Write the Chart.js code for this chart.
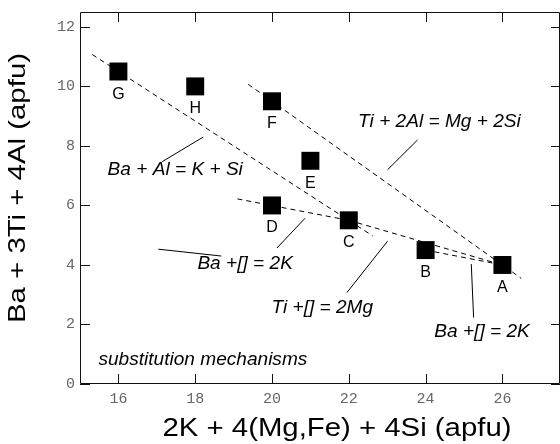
<!DOCTYPE html>
<html>
<head>
<meta charset="utf-8">
<script src="https://cdn.jsdelivr.net/npm/chart.js@4.4.0/dist/chart.umd.min.js"></script>
<style>
  html, body { margin: 0; padding: 0; background: #fff; }
  canvas { display: block; }
</style>
</head>
<body>
<canvas id="chart" width="560" height="444"></canvas>
<script>
// Samples A-H
const sampleNames = ['A', 'B', 'C', 'D', 'E', 'F', 'G', 'H'];
const sampleX = [26, 24, 22, 20, 21, 20, 16, 18];
const sampleY = [4, 4.5, 5.5, 6, 7.5, 9.5, 10.5, 10];

// Substitution vectors (dashed), end points
const baAlX = [15.32, 22.62];
const baAlY = [11.07, 4.98];
const tiAlX = [19.38, 26.49];
const tiAlY = [10.07, 3.55];
const baVacLeftX = [19.1, 22];
const baVacLeftY = [6.22, 5.5];
const tiVacX = [22, 26];
const tiVacY = [5.5, 4];
const baVacRightX = [24, 26];
const baVacRightY = [4.5, 4];

// Leader lines from the labels to the vectors
const leadTiAlX = [23.79, 23.01];
const leadTiAlY = [8.2, 7.2];
const leadBaAlX = [18.21, 17.14];
const leadBaAlY = [8.3, 7.47];
const leadBaVacAX = [17.04, 18.68];
const leadBaVacAY = [4.53, 4.3];
const leadBaVacBX = [20.86, 20.13];
const leadBaVacBY = [5.57, 4.57];
const leadTiVacX = [23.01, 21.95];
const leadTiVacY = [4.8, 3.07];
const leadBaVacCX = [25.19, 25.25];
const leadBaVacCY = [4.03, 2.23];

const xTicks = [16, 18, 20, 22, 24, 26];
const yTicks = [0, 2, 4, 6, 8, 10, 12];

// Annotation texts, anchored in data units (baseline)
const notes = [
    { text: 'Ti + 2Al = Mg + 2Si', x: 24.36, y: 8.63, align: 'center' },
    { text: 'Ba + Al = K + Si', x: 17.48, y: 7.03, align: 'center' },
    { text: 'Ba +[] = 2K', x: 19.30, y: 3.87, align: 'center' },
    { text: 'Ti +[] = 2Mg', x: 21.31, y: 2.37, align: 'center' },
    { text: 'Ba +[] = 2K', x: 25.47, y: 1.57, align: 'center' },
    { text: 'substitution mechanisms', x: 15.48, y: 0.63, align: 'left' }
];

const SANS = '"Liberation Sans", Arial, Helvetica, sans-serif';
const MONO = '"Liberation Mono", "Courier New", monospace';

function toPoints(xs, ys) {
    return xs.map((x, i) => ({ x: x, y: ys[i] }));
}

function vector(xs, ys) {
    return {
        data: toPoints(xs, ys),
        showLine: true,
        borderColor: '#000',
        borderWidth: 1,
        borderDash: [5, 4],
        pointRadius: 0,
        fill: false
    };
}

function leader(xs, ys) {
    return {
        data: toPoints(xs, ys),
        showLine: true,
        borderColor: '#000',
        borderWidth: 1,
        pointRadius: 0,
        fill: false
    };
}

function stretchedText(ctx, text, x, y, sx, align) {
    ctx.save();
    ctx.translate(x, y);
    ctx.scale(sx, 1);
    ctx.textAlign = align;
    ctx.fillText(text, 0, 0);
    ctx.restore();
}

// Frame with inward ticks, sample letters, notes and axis titles
const decorations = {
    id: 'decorations',
    afterDatasetsDraw(chart) {
        const { ctx, chartArea: a, scales: { x, y } } = chart;
        ctx.save();

        ctx.strokeStyle = '#111';
        ctx.lineWidth = 1;
        ctx.beginPath();
        ctx.moveTo(a.left + 0.5, a.top + 0.5);
        ctx.lineTo(a.right - 0.5, a.top + 0.5);
        ctx.lineTo(a.right - 0.5, a.bottom - 0.5);
        ctx.lineTo(a.left + 0.5, a.bottom - 0.5);
        ctx.closePath();
        xTicks.forEach(v => {
            const px = Math.round(x.getPixelForValue(v)) + 0.5;
            ctx.moveTo(px, a.bottom);
            ctx.lineTo(px, a.bottom - 10);
            ctx.moveTo(px, a.top);
            ctx.lineTo(px, a.top + 10);
        });
        yTicks.forEach(v => {
            const py = Math.round(y.getPixelForValue(v)) + 0.5;
            ctx.moveTo(a.left, py);
            ctx.lineTo(a.left + 10, py);
            ctx.moveTo(a.right, py);
            ctx.lineTo(a.right - 9, py);
        });
        ctx.stroke();

        // sample letters under the squares
        ctx.fillStyle = '#000';
        ctx.font = '16px ' + SANS;
        ctx.textAlign = 'center';
        ctx.textBaseline = 'alphabetic';
        const meta = chart.getDatasetMeta(0);
        meta.data.forEach((pt, i) => {
            ctx.fillText(sampleNames[i], pt.x, pt.y + 27);
        });

        // substitution notes
        ctx.font = 'italic 18px ' + SANS;
        notes.forEach(n => {
            stretchedText(ctx, n.text, x.getPixelForValue(n.x), y.getPixelForValue(n.y), 1.06, n.align);
        });

        // axis titles
        ctx.font = '26px ' + SANS;
        const xTitle = '2K + 4(Mg,Fe) + 4Si (apfu)';
        stretchedText(ctx, xTitle, 337, 436, 349 / ctx.measureText(xTitle).width, 'center');

        ctx.font = '24px ' + SANS;
        const yTitle = 'Ba + 3Ti + 4Al (apfu)';
        const sy = 270 / ctx.measureText(yTitle).width;
        ctx.save();
        ctx.translate(25, 188);
        ctx.rotate(-Math.PI / 2);
        stretchedText(ctx, yTitle, 0, 0, sy, 'center');
        ctx.restore();

        ctx.restore();
    }
};

new Chart(document.getElementById('chart'), {
    type: 'scatter',
    data: {
        datasets: [
            {
                data: toPoints(sampleX, sampleY),
                pointStyle: 'rect',
                pointRadius: 12.7,
                backgroundColor: '#000',
                borderWidth: 0
            },
            vector(baAlX, baAlY),
            vector(tiAlX, tiAlY),
            vector(baVacLeftX, baVacLeftY),
            vector(tiVacX, tiVacY),
            vector(baVacRightX, baVacRightY),
            leader(leadTiAlX, leadTiAlY),
            leader(leadBaAlX, leadBaAlY),
            leader(leadBaVacAX, leadBaVacAY),
            leader(leadBaVacBX, leadBaVacBY),
            leader(leadTiVacX, leadTiVacY),
            leader(leadBaVacCX, leadBaVacCY)
        ]
    },
    options: {
        responsive: false,
        animation: false,
        events: [],
        layout: {
            autoPadding: false,
            padding: { top: 12, right: 0, left: 0, bottom: 0 }
        },
        plugins: {
            legend: { display: false },
            tooltip: { enabled: false }
        },
        scales: {
            x: {
                type: 'linear',
                min: 15,
                max: 27.5,
                afterBuildTicks: s => { s.ticks = xTicks.map(v => ({ value: v })); },
                afterFit: s => {
                    s.height = 60;
                    s.paddingLeft = 0;
                    s.paddingRight = 0;
                },
                grid: { display: false, drawTicks: false },
                border: { display: false },
                ticks: {
                    font: { family: MONO, size: 15 },
                    color: '#666',
                    padding: 6,
                    maxRotation: 0
                }
            },
            y: {
                type: 'linear',
                min: 0,
                max: 12.5,
                afterBuildTicks: s => { s.ticks = yTicks.map(v => ({ value: v })); },
                afterFit: s => {
                    s.width = 80;
                    s.paddingTop = 0;
                    s.paddingBottom = 0;
                },
                grid: { display: false, drawTicks: false },
                border: { display: false },
                ticks: {
                    font: { family: MONO, size: 15 },
                    color: '#666',
                    padding: 5
                }
            }
        }
    },
    plugins: [decorations]
});
</script>
</body>
</html>
